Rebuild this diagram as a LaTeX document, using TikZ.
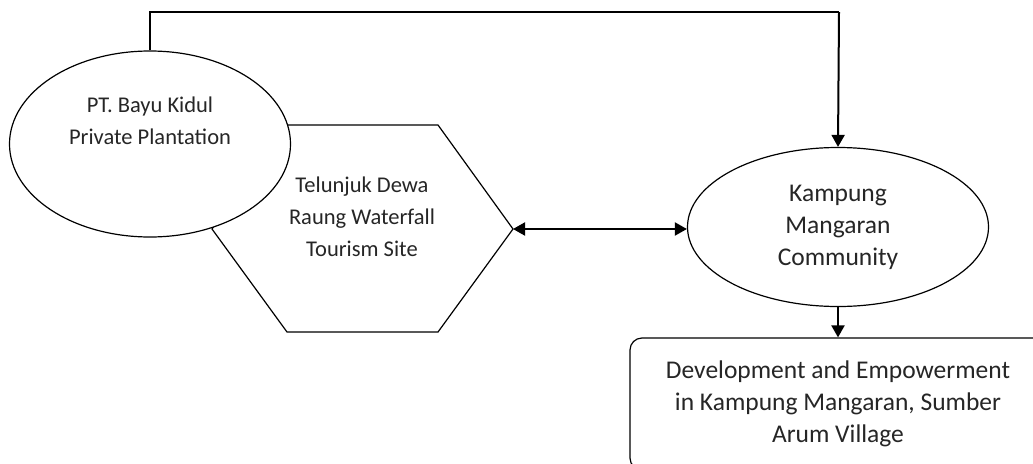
\documentclass[tikz,border=0pt]{standalone}
\usepackage{fontspec}
\setmainfont{Carlito}
\usetikzlibrary{arrows.meta, shapes.geometric, positioning}

\tikzset{
	shapeline/.style={draw, line width=1.2pt, fill=white},
	flow/.style={line width=2pt, -{Triangle[length=12pt, width=13pt]}},
	txt/.style={align=center, font=\fontsize{22.5}{32}\selectfont, text=black!85},
	bigtxt/.style={txt, font=\fontsize{25.5}{32}\selectfont}
}

\begin{document}
\begin{tikzpicture}[x=1pt, y=-1pt]
	\useasboundingbox (0,0) rectangle (1033,463);

	% hexagon
	\draw[shapeline] (212,229) -- (287,125) -- (438,125) -- (513,229) -- (438,332) -- (287,332) -- cycle;
	\coordinate (hexR) at (513,229);
	\node[txt] (site) at (362,217) {Telunjuk Dewa\\Raung Waterfall\\Tourism Site};

	\node[shapeline, ellipse, minimum width=281pt, minimum height=186pt] (pt) at (150,144) {};
	\node[txt] (ptText) at (150,121) {PT. Bayu Kidul\\Private Plantation};

	\node[shapeline, ellipse, minimum width=301pt, minimum height=159pt, bigtxt] (kampung) at (838,227) {Kampung\\Mangaran\\Community};

	\node[shapeline, rounded corners=12pt, minimum width=416pt, minimum height=132pt, bigtxt] (dev) at (838,404) {Development and Empowerment\\in Kampung Mangaran, Sumber\\Arum Village};

	\coordinate (top1) at (150,12);
	\coordinate (top2) at (839,12);
	\draw[line width=1.5pt] (pt.north) -- (top1) -- (top2);
	\draw[flow] (top2) -- (kampung.north);
	\draw[flow, {Triangle[length=12pt, width=13pt]}-{Triangle[length=12pt, width=13pt]}] (hexR) -- (hexR -| kampung.west);
	\draw[flow] (kampung.south) -- (dev.north -| kampung.south);
\end{tikzpicture}
\end{document}
